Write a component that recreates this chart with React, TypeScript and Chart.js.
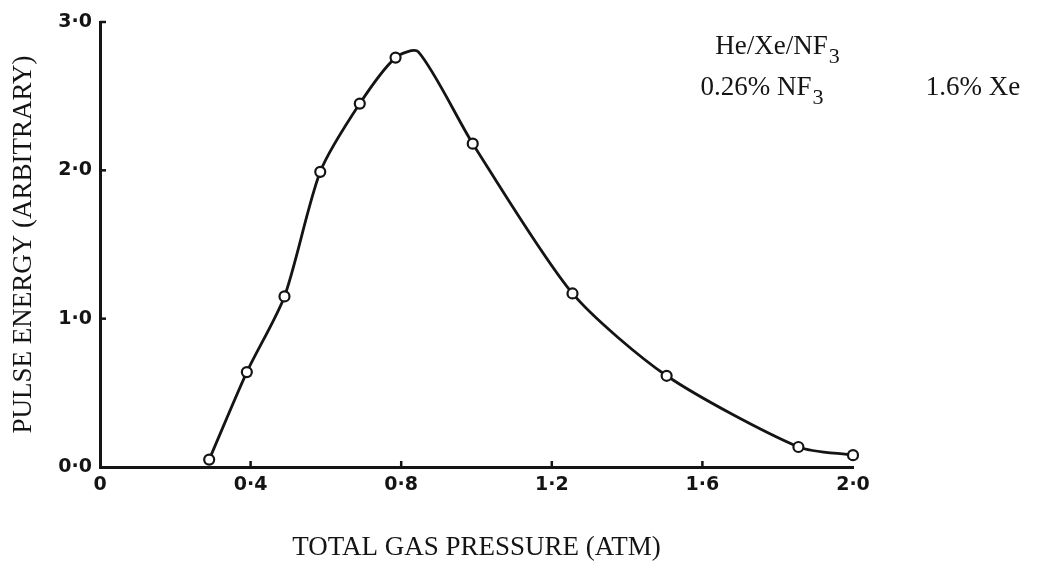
import React, { useEffect, useRef } from "react";
import { Chart, registerables } from "chart.js";

Chart.register(...registerables);

// Measured points (total gas pressure in atm, pulse energy arbitrary)
const pressure = [0.29, 0.39, 0.49, 0.585, 0.69, 0.785, 0.99, 1.255, 1.505, 1.855, 2.0];
const energy = [0.05, 0.64, 1.15, 1.99, 2.45, 2.76, 2.18, 1.17, 0.615, 0.135, 0.08];
// Hand-drawn curve passes through the points plus its peak
const peakPressure = [0.845];
const peakEnergy = [2.8];

const xTickValues = [0, 0.4, 0.8, 1.2, 1.6, 2.0];
const xTickLabels = ["0", "0·4", "0·8", "1·2", "1·6", "2·0"];
const yTickValues = [0, 1, 2, 3];
const yTickLabels = ["0·0", "1·0", "2·0", "3·0"];

const xTitle = "TOTAL GAS PRESSURE (ATM)";
const yTitle = "PULSE ENERGY (ARBITRARY)";

const noteTexts = ["He/Xe/NF", "0.26% NF", "1.6% Xe"];
const noteSubs = ["3", "3", ""];
const noteX = [1.634, 1.595, 2.193];
const noteY = [2.83, 2.555, 2.555];

const INK = "#141414";

export default function App() {
  const ref = useRef<HTMLCanvasElement | null>(null);

  useEffect(() => {
    if (!ref.current) return;
    const curve = pressure
      .map((x, i) => ({ x, y: energy[i] }))
      .concat(peakPressure.map((x, i) => ({ x, y: peakEnergy[i] })))
      .sort((a, b) => a.x - b.x);
    const pts = pressure.map((x, i) => ({ x, y: energy[i] }));

    const extras = {
      id: "extras",
      afterDatasetsDraw(chart: any) {
        const ctx = chart.ctx;
        const xs = chart.scales.x;
        const ys = chart.scales.y;
        ctx.save();
        ctx.strokeStyle = INK;
        ctx.lineWidth = 2.5;
        // inward tick marks
        xTickValues.forEach((v) => {
          if (v === 0 || v === 2) return;
          const px = xs.getPixelForValue(v);
          ctx.beginPath();
          ctx.moveTo(px, ys.getPixelForValue(0));
          ctx.lineTo(px, ys.getPixelForValue(0) - 6);
          ctx.stroke();
        });
        yTickValues.forEach((v) => {
          if (v === 0) return;
          const py = ys.getPixelForValue(v);
          ctx.beginPath();
          ctx.moveTo(xs.getPixelForValue(0), py);
          ctx.lineTo(xs.getPixelForValue(0) + 6, py);
          ctx.stroke();
        });
        // annotations
        ctx.fillStyle = INK;
        ctx.textBaseline = "middle";
        ctx.textAlign = "left";
        noteTexts.forEach((t, i) => {
          const px = xs.getPixelForValue(noteX[i]);
          const py = ys.getPixelForValue(noteY[i]);
          ctx.font = "27px 'Liberation Serif', serif";
          ctx.fillText(t, px, py);
          if (noteSubs[i]) {
            const w = ctx.measureText(t).width;
            ctx.font = "22px 'Liberation Serif', serif";
            ctx.fillText(noteSubs[i], px + w + 1, py + 10);
          }
        });
        ctx.restore();
      },
    };

    const chart = new Chart(ref.current, {
      type: "scatter",
      data: {
        datasets: [
          {
            type: "line",
            data: curve,
            borderColor: INK,
            borderWidth: 2.8,
            pointRadius: 0,
            tension: 0.25,
            fill: false,
            clip: false,
            order: 2,
          } as any,
          {
            type: "scatter",
            data: pts,
            pointRadius: 5,
            pointBorderWidth: 2.2,
            pointBackgroundColor: "#ffffff",
            pointBorderColor: INK,
            clip: false,
            order: 1,
          } as any,
        ],
      },
      options: {
        animation: false,
        responsive: false,
        devicePixelRatio: 1,
        layout: { padding: { left: 0, right: 185, top: 22, bottom: 0 } },
        plugins: { legend: { display: false }, tooltip: { enabled: false } },
        scales: {
          x: {
            type: "linear",
            min: 0,
            max: 2,
            afterFit: (s: any) => {
              s.height = 100;
            },
            afterBuildTicks: (s: any) => {
              s.ticks = xTickValues.map((value) => ({ value }));
            },
            grid: { display: false, drawTicks: false },
            border: { display: true, color: INK, width: 3 },
            ticks: {
              color: INK,
              padding: 7,
              maxRotation: 0,
              autoSkip: false,
              font: { family: "'DejaVu Sans', sans-serif", size: 19, weight: "bold" },
              callback: (_v: any, i: number) => xTickLabels[i],
            },
            title: {
              display: true,
              text: xTitle,
              color: INK,
              font: { family: "'Liberation Serif', serif", size: 27, lineHeight: 1 },
              padding: { top: 0, bottom: 6 },
            },
          },
          y: {
            type: "linear",
            min: 0,
            max: 3,
            afterFit: (s: any) => {
              s.width = 100;
            },
            afterBuildTicks: (s: any) => {
              s.ticks = yTickValues.map((value) => ({ value }));
            },
            grid: { display: false, drawTicks: false },
            border: { display: true, color: INK, width: 3 },
            ticks: {
              color: INK,
              padding: 8,
              autoSkip: false,
              font: { family: "'DejaVu Sans', sans-serif", size: 19, weight: "bold" },
              callback: (_v: any, i: number) => yTickLabels[i],
            },
            title: {
              display: true,
              text: yTitle,
              color: INK,
              font: { family: "'Liberation Serif', serif", size: 27, lineHeight: 1 },
              padding: { top: 10, bottom: 0 },
            },
          },
        },
      },
      plugins: [extras],
    });
    return () => chart.destroy();
  }, []);

  return (
    <div style={{ position: "absolute", left: 0, top: 0, width: 1038, height: 567, background: "#fff" }}>
      <canvas ref={ref} width={1038} height={567} style={{ display: "block" }} />
    </div>
  );
}
